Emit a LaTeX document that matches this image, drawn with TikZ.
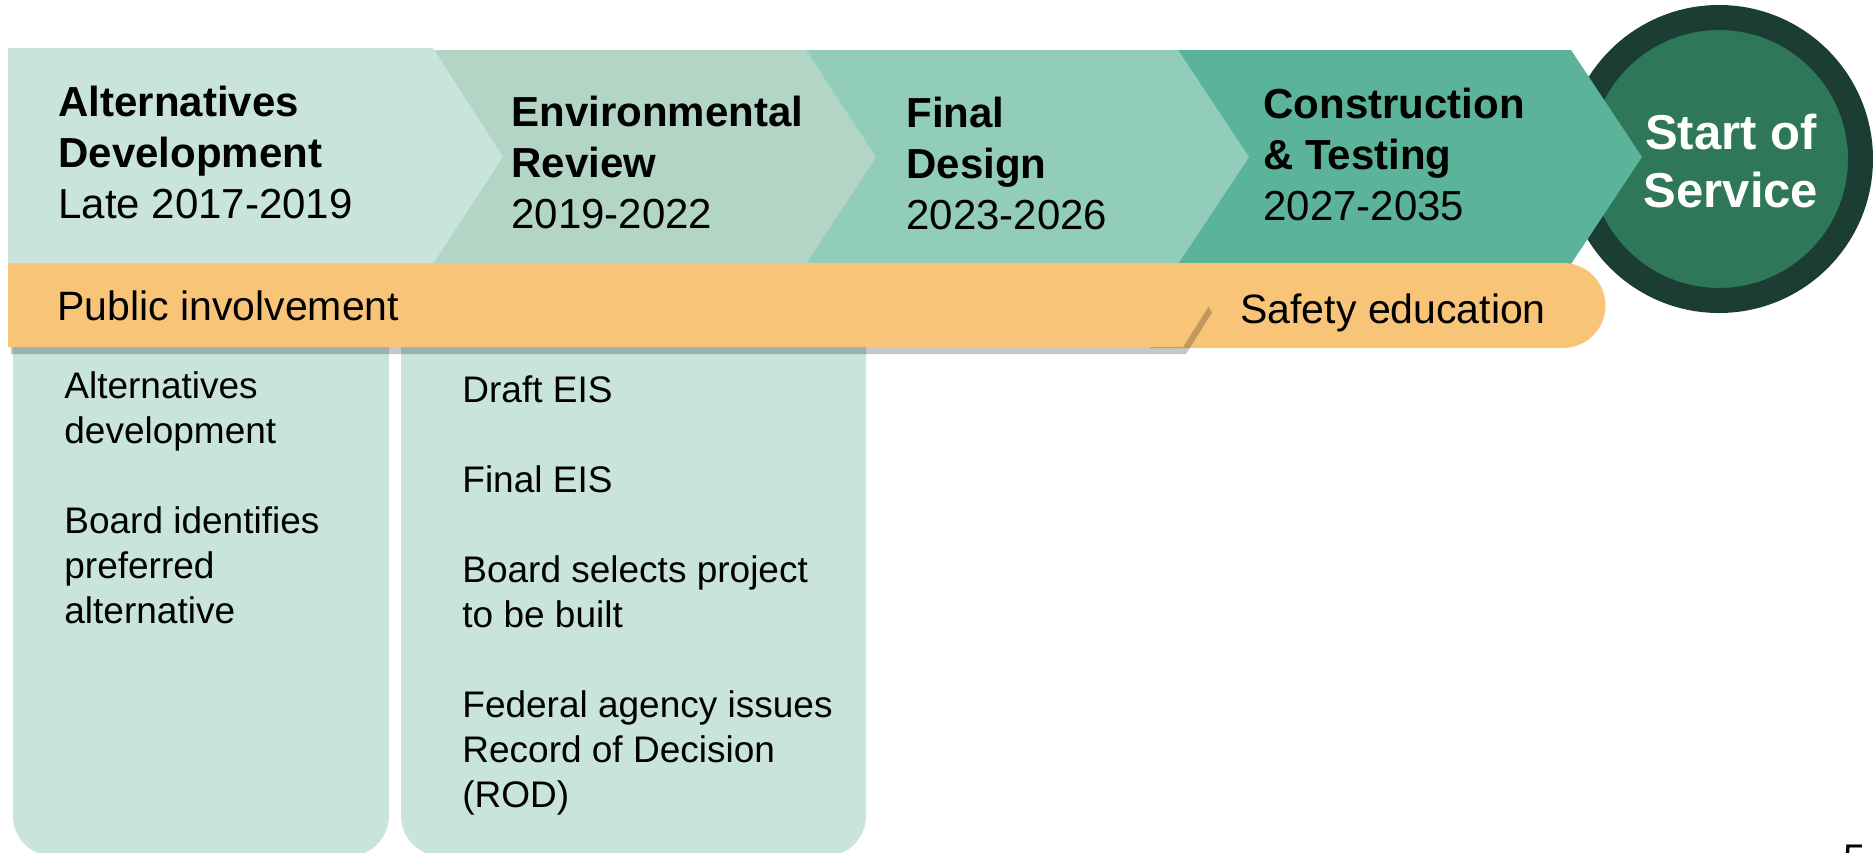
\documentclass[tikz,border=0pt]{standalone}
\usepackage{fontspec}
\setmainfont{Liberation Sans}
\usetikzlibrary{shadows}

\definecolor{phaseA}{HTML}{C8E4DD}
\definecolor{phaseB}{HTML}{B2D5C6}
\definecolor{phaseC}{HTML}{92CDBB}
\definecolor{phaseD}{HTML}{5BB49A}
\definecolor{ringdark}{HTML}{1B3D33}
\definecolor{ringfill}{HTML}{2E7759}
\definecolor{barorange}{HTML}{F8C477}

\tikzset{
  phase/.style={font=\fontsize{21}{25.5}\selectfont, align=left, anchor=base west, inner sep=0pt},
  item/.style={font=\fontsize{18.5}{22.5}\selectfont, align=left, anchor=base west, inner sep=0pt},
  bartext/.style={font=\fontsize{20.5}{24}\selectfont, anchor=base west, inner sep=0pt},
}

\begin{document}
\begin{tikzpicture}[x=0.5pt, y=-0.5pt]
	\useasboundingbox (0,0) rectangle (1873,852);
	
	% Detail boxes
	\fill[phaseA, rounded corners=20pt] (13,290) rectangle (389,856);
	\fill[phaseA, rounded corners=20pt] (401,290) rectangle (866,856);
	
	% Start of service
	\node[circle, fill=ringfill, draw=ringdark, line width=12.5pt, minimum size=141.5pt, inner sep=0pt] (service) at (1719,159) {};
	
	% Phases, drawn right to left
	\fill[phaseD] (1150,50) -- (1571,50) -- (1642,157) -- (1571,264) -- (1150,264) -- (1221,157) -- cycle;
	\fill[phaseC] (780,50) -- (1178,50) -- (1249,157) -- (1178,264) -- (780,264) -- (850,157) -- cycle;
	\fill[phaseB] (410,50) -- (806,50) -- (876,157) -- (806,264) -- (410,264) -- (480,157) -- cycle;
	\fill[phaseA] (8,48) -- (433,48) -- (503,157) -- (433,264) -- (8,264) -- cycle;
	
	% Outreach bars
	\fill[barorange] (1150,263) -- (1563,263) arc[start angle=-90, end angle=90, radius=42.5] -- (1150,348) -- cycle;
	\fill[barorange, drop shadow={shadow xshift=1.5pt, shadow yshift=-3.5pt, fill=black, opacity=0.22}]
		(8,263) -- (1183,263) -- (1209,305.5) -- (1183,347) -- (8,347) -- cycle;
	
	% Texts (anchored on the last line)
	\node[phase] (alttitle) at (58,218) {\textbf{Alternatives}\\\textbf{Development}\\Late 2017-2019};
	\node[phase] (envtitle) at (511,228) {\textbf{Environmental}\\\textbf{Review}\\2019-2022};
	\node[phase] (designtitle) at (906,229) {\textbf{Final}\\\textbf{Design}\\2023-2026};
	\node[phase] (buildtitle) at (1263,220) {\textbf{Construction}\\\textbf{\& Testing}\\2027-2035};
	\node[text=white, align=center, inner sep=0pt, font=\bfseries\fontsize{24.5}{29}\selectfont] (servicetext) at (1731,161) {Start of\\Service};
	
	\node[bartext] (public) at (57,320) {Public involvement};
	\node[bartext] (safety) at (1240,323) {Safety education};
	
	\node[item] (altitems) at (64,623) {Alternatives\\development\\[22.5pt]Board identifies\\preferred\\alternative};
	\node[item] (envitems) at (462,807) {Draft EIS\\[22.5pt]Final EIS\\[22.5pt]Board selects project\\to be built\\[22.5pt]Federal agency issues\\Record of Decision\\(ROD)};
	
	\node[font=\fontsize{20}{24}\selectfont, anchor=base west, inner sep=0pt] (pagenum) at (1843,872) {5};
\end{tikzpicture}
\end{document}
